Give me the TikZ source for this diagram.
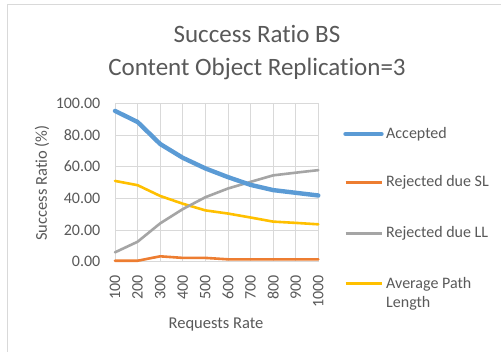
\documentclass[tikz,border=0pt]{standalone}
\usepackage{fontspec}
\setmainfont{Carlito}[Ligatures=NoCommon]
\definecolor{txtgray}{HTML}{595959}
\definecolor{gridgray}{HTML}{D9D9D9}
\definecolor{seracc}{HTML}{5B9BD5}
\definecolor{sersl}{HTML}{ED7D31}
\definecolor{serll}{HTML}{A5A5A5}
\definecolor{serapl}{HTML}{FFC000}
\tikzset{
  lbl/.style={text=txtgray, font=\fontsize{16}{19}\selectfont, inner sep=0pt},
  axtitle/.style={text=txtgray, font=\fontsize{16.5}{19}\selectfont, inner sep=0pt},
  ttl/.style={text=txtgray, font=\fontsize{25}{33}\selectfont, inner sep=0pt, align=center},
  gridln/.style={draw=gridgray, line width=0.8pt},
  series/.style={line width=2.6pt, line join=round, line cap=round},
  accline/.style={series, draw=seracc, line width=4.4pt},
  slline/.style={series, draw=sersl},
  llline/.style={series, draw=serll},
  aplline/.style={series, draw=serapl},
}
\begin{document}
\begin{tikzpicture}[x=1pt,y=-1pt]
\useasboundingbox (0,0) rectangle (501,352);
\fill[white] (0,0) rectangle (501,352);
% chart frame (only its top and left edges are inside the page)
\draw[gridgray, line width=1pt] (7,352) -- (7,5) -- (501,5);

% title
\node[ttl] (title) at (257,52.5) {Success Ratio BS\\Content Object Replication=3};

% data area: x = category index (0..9), y = percent
\begin{scope}[shift={(115,261.7)}, x=22.59pt, y=1.584pt]
  \foreach \v in {0,20,...,100} \draw[gridln] (0,\v) -- (9,\v);
  \foreach \i in {1,...,9} \draw[gridln] (\i,0) -- (\i,100);
  \draw[gridln] (0,0) -- (0,100);

  \foreach \v/\t [count=\k] in {0/0.00,20/20.00,40/40.00,60/60.00,80/80.00,100/100.00}
    \node[lbl, anchor=east] (yt\k) at (-0.64,\v) {\t};
  \foreach \r [count=\k from 0] in {100,200,...,1000}
    \node[lbl, anchor=east, rotate=90] (xt\k) at (\k,-8.6) {\r};

  \draw[slline] (0,0.6) -- (1,0.6) -- (2,3.4) -- (3,2.4) -- (4,2.4) -- (5,1.5)
    -- (6,1.5) -- (7,1.5) -- (8,1.5) -- (9,1.5);
  \draw[aplline] (0,51) -- (1,48.3) -- (2,41.5) -- (3,36.6) -- (4,32.4) -- (5,30.4)
    -- (6,27.9) -- (7,25.3) -- (8,24.5) -- (9,23.6);
  \draw[llline] (0,5.9) -- (1,12.6) -- (2,24.2) -- (3,33.2) -- (4,40.7) -- (5,46.2)
    -- (6,50.4) -- (7,54.5) -- (8,56.2) -- (9,57.8);
  \draw[accline] (0,95.2) -- (1,88.2) -- (2,74.3) -- (3,65.6) -- (4,58.9) -- (5,53.4)
    -- (6,48.5) -- (7,45.2) -- (8,43.5) -- (9,41.8);
\end{scope}

% axis titles
\node[axtitle] (xtitle) at (216,325) {Requests Rate};
\node[axtitle, rotate=90] (ytitle) at (42,183) {Success Ratio (\%)};

% legend
\coordinate (la1) at (345.5,134);   \coordinate (lb1) at (381.5,134);
\coordinate (la2) at (345.5,182.7); \coordinate (lb2) at (381.5,182.7);
\coordinate (la3) at (345.5,233.3); \coordinate (lb3) at (381.5,233.3);
\coordinate (la4) at (345.5,283.3); \coordinate (lb4) at (381.5,283.3);
\draw[accline, line cap=round] (la1) -- (lb1);
\draw[slline, line cap=butt] (la2) -- (lb2);
\draw[llline, line cap=butt] (la3) -- (lb3);
\draw[aplline, line cap=butt] (la4) -- (lb4);
\node[lbl, anchor=west] (leg1) at (386,134) {Accepted};
\node[lbl, anchor=west] (leg2) at (386,182.7) {Rejected due SL};
\node[lbl, anchor=west] (leg3) at (386,233.3) {Rejected due LL};
\node[lbl, anchor=west, align=left] (leg4) at (386,293.5) {Average Path\\Length};
\end{tikzpicture}
\end{document}
